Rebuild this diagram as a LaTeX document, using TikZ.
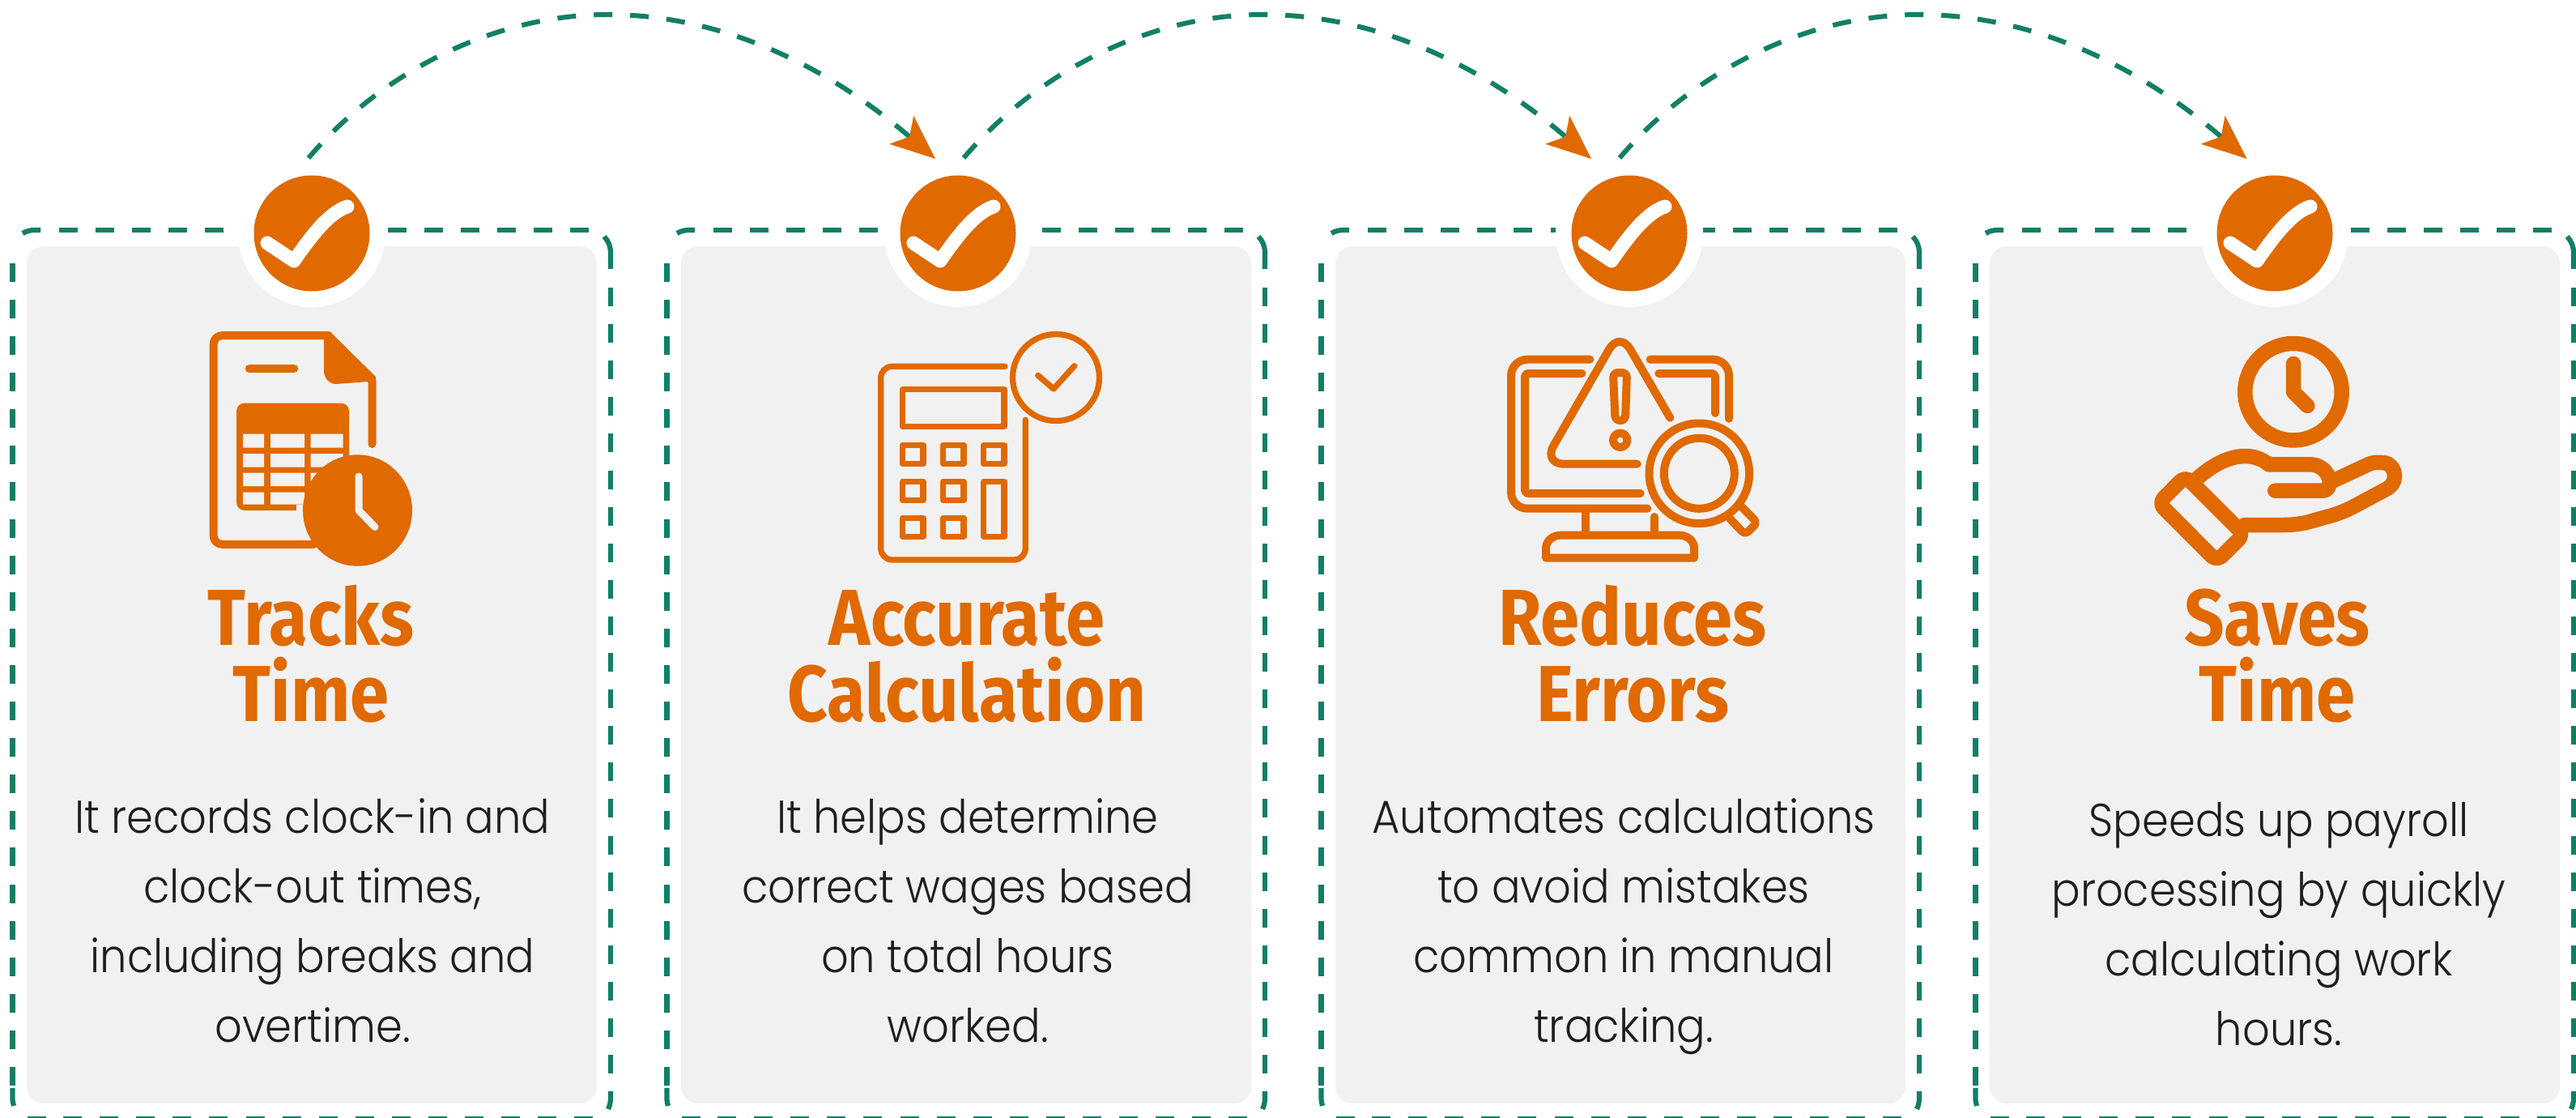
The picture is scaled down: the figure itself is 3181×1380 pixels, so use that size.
\documentclass[tikz,border=0pt]{standalone}
\usepackage{fontspec}
\usetikzlibrary{arrows.meta,calc}
\newfontfamily\titlef{Fira Sans}[FakeStretch=0.885]
\newfontfamily\bodyf{Poppins}[UprightFont={* Light},FakeStretch=0.925]
\definecolor{acc}{HTML}{E06900}
\definecolor{grn}{HTML}{117F66}
\definecolor{cardbg}{HTML}{F1F1F1}
\definecolor{ink}{HTML}{1E1E1E}
\tikzset{
  framedash/.style={draw=grn,line width=6.2pt,dash pattern=on 23pt off 22.1pt},
  framecorner/.style={draw=grn,line width=6.2pt},
  hop/.style={draw=grn,line width=6pt,dash pattern=on 23pt off 22pt,
    -{Stealth[length=55pt,width=46pt,inset=13pt,color=acc,line width=0pt]}},
  halo/.style={circle,fill=white,minimum size=182pt,inner sep=0pt},
  badge/.style={circle,fill=acc,minimum size=143pt,inner sep=0pt},
  tick/.style={draw=white,line width=17pt,line cap=round,line join=round},
  ico/.style={draw=acc,line cap=round,line join=round},
  cardtitle/.style={anchor=north,inner sep=0pt,align=center,text=acc,
    font=\titlef\bfseries\fontsize{98}{94}\selectfont},
  cardbody/.style={anchor=north,inner sep=0pt,align=center,text=ink,
    font=\bodyf\fontsize{57}{86}\selectfont},
}
\newcommand{\tickmark}[1]{\draw[tick] ($(#1)+(-55,12)$) -- ($(#1)+(-22,34)$) .. controls ($(#1)+(0,2)$) and ($(#1)+(22,-26)$) .. ($(#1)+(44,-33)$);}
\begin{document}
\begin{tikzpicture}[x=1pt,y=-1pt]
\useasboundingbox (0,0) rectangle (3181,1380);
\clip (0,0) rectangle (3181,1380);
\fill[white] (0,0) rectangle (3181,1380);
% cards
\foreach \dx in {0,808,1616,2424}{
\begin{scope}[xshift=\dx pt]
  \fill[cardbg,rounded corners=21pt] (33,304) rectangle (737,1362);
  \draw[framedash] (73,284) -- (728,284);
  \draw[framecorner] (746,292) .. controls (751,297) and (754,304) .. (754,312) -- (754,332);
  \draw[framedash] (754,355) -- (754,1330);
  \draw[framecorner] (754,1347) -- (754,1355) .. controls (754,1360) and (753,1365) .. (751,1369);
  \draw[framedash] (78,1381) -- (735,1381);
  \draw[framecorner] (34,1381) -- (57,1381);
  \draw[framedash] (15.5,1340) -- (15.5,305);
  \draw[framecorner] (15.5,1343) -- (15.5,1355) .. controls (15.5,1359) and (16,1362) .. (17,1365);
  \draw[framecorner] (28,288) .. controls (33,285) and (38,284) .. (43,284) -- (50,284);
\end{scope}
}
% badges
\node[halo] (h1) at (385,288) {};
\node[halo] (h2) at (1183,288) {};
\node[halo] (h3) at (2012,288) {};
\node[halo] (h4) at (2809,288) {};
\node[badge] (b1) at (h1) {};
\node[badge] (b2) at (h2) {};
\node[badge] (b3) at (h3) {};
\node[badge] (b4) at (h4) {};
\tickmark{b1}\tickmark{b2}\tickmark{b3}\tickmark{b4}
% hops
\coordinate (s1) at (381,195);
\coordinate (e1) at (1155,196);
\coordinate (s2) at (1190,195);
\coordinate (e2) at (1965,196);
\coordinate (s3) at (2000,195);
\coordinate (e3) at (2774.5,196);
\draw[hop] (s1) .. controls (470,90) and (610,18) .. (750,18) .. controls (880,18) and (1010,72) .. (e1);
\draw[hop] (s2) .. controls (1279,90) and (1419,18) .. (1559,18) .. controls (1689,18) and (1820,72) .. (e2);
\draw[hop] (s3) .. controls (2089,90) and (2229,18) .. (2369,18) .. controls (2499,18) and (2629.5,72) .. (e3);
% icon 1: document with table and clock
\draw[ico,line width=10pt] (387,672) -- (275,672) .. controls (268,672) and (263.5,667) .. (263.5,660) -- (263.5,426) .. controls (263.5,419) and (268,414) .. (275,414) -- (405,414) -- (459.5,470) -- (459.5,548);
\fill[acc] (400,414) -- (407,409) -- (464,465) -- (464,470) -- (455,471) -- (415,474) .. controls (406,474) and (400,466) .. (400,458) -- cycle;
\draw[ico,line width=10.5pt] (308,455) -- (363,455);
\fill[acc,rounded corners=10pt] (292,497.5) rectangle (431,630);
\fill[cardbg] (366,622.5) rectangle (432,632);
\fill[cardbg] (300,535.5) rectangle (326,552.5) (334,535.5) rectangle (376,552.5) (383.5,535.5) rectangle (423.5,552.5)
 (300,560) rectangle (326,576.5) (334,560) rectangle (376,576.5) (383.5,560) rectangle (423.5,576.5)
 (300,583.5) rectangle (326,600) (334,583.5) rectangle (376,600) (383.5,583.5) rectangle (423.5,600)
 (300,607.5) rectangle (326,622.5) (334,607.5) rectangle (376,622.5) (383.5,607.5) rectangle (431,632);
\fill[acc] (441.5,630) ellipse [x radius=67.5pt,y radius=68.7pt];
\draw[draw=cardbg,line width=9pt,line cap=round,line join=round] (443,588) -- (443,630) -- (463,650.5);
% icon 2: calculator
\begin{scope}[ico,line width=7.3pt]
  \draw[rounded corners=14pt] (1241,452.3) -- (1087.7,452.3) -- (1087.7,691) -- (1266.3,691) -- (1266.3,518.3);
  \draw (1114.7,480.7) rectangle (1240,526.7);
  \draw (1114.7,549.3) rectangle (1140,572.7) (1164.7,549.3) rectangle (1190,572.7) (1214.7,549.3) rectangle (1240,572.7);
  \draw (1114.7,594.3) rectangle (1140,617.7) (1164.7,594.3) rectangle (1190,617.7) (1214.7,594.3) rectangle (1240,662.7);
  \draw (1114.7,639.3) rectangle (1140,662.7) (1164.7,639.3) rectangle (1190,662.7);
  \draw (1304,466) circle [radius=53.5pt];
  \draw (1281.7,463.3) -- (1301,480) -- (1326.7,451.7);
\end{scope}
% icon 3: monitor, warning, magnifier
\begin{scope}[ico,line width=10pt]
  \draw[rounded corners=20pt] (1963.3,443.7) -- (1866,443.7) -- (1866,627.7) -- (2034.3,627.7);
  \draw[rounded corners=20pt] (2037.7,443.7) -- (2135,443.7) -- (2135,516.7);
  \draw[rounded corners=4pt] (1953.3,461) -- (1883,461) -- (1883,609) -- (2025.7,609);
  \draw[rounded corners=4pt] (2048.3,461) -- (2118,461) -- (2118,510);
  \draw[rounded corners=26pt] (2062.3,515.7) -- (2000,408.7) -- (1905.4,572.7) -- (2021.7,572.7);
  \draw[rounded corners=6pt] (1992,460) -- (2009,460) -- (2007,519) -- (1994.5,519) -- cycle;
  \draw (2000.7,543.3) circle [radius=8.7pt];
  \draw (2098.3,584.3) circle [radius=61.8pt];
  \draw (2098.3,584.3) circle [radius=43.5pt];
  \draw[rounded corners=6pt] (2136,640) -- (2155,660) -- (2170,645) -- (2151,626);
  \draw (1958,627.7) -- (1958,658);
  \draw (2043,638) -- (2043,658);
  \draw (1909,688.7) -- (1909,677) .. controls (1909,667) and (1918,660.7) .. (1927,660.7) -- (2074,660.7) .. controls (2083,660.7) and (2092,667) .. (2092,677) -- (2092,688.7) -- cycle;
\end{scope}
% icon 4: hand with clock
\begin{scope}[ico,line width=18.5pt]
  \draw (2832,483.7) circle [radius=59.7pt];
  \draw (2832,449) -- (2832,483.7) -- (2849.3,501);
  \draw[rounded corners=9pt] (2698.7,587.7) -- (2770.7,659.7) -- (2737.3,692.7) -- (2665.7,621) -- cycle;
  \draw (2714,590) .. controls (2740,566.7) and (2775,552) .. (2801.7,573.3) -- (2853.3,573.3) .. controls (2868,573.3) and (2880,588) .. (2876,600) .. controls (2874,604) and (2872,605.7) .. (2868,605.7) -- (2809.3,605.7);
  \draw (2880,594) -- (2925,573) .. controls (2932,570) and (2937,571) .. (2942,571) .. controls (2952,571) and (2957,580) .. (2957,588) .. controls (2957,595) and (2953,600) .. (2948,603) -- (2905,626) .. controls (2895,631) and (2885,635) .. (2873,638) -- (2848,645) .. controls (2838,647) and (2830,648) .. (2820,648) -- (2772,648);
\end{scope}
% titles
\node[cardtitle] (t1) at (384,716.4) {\rule{0pt}{80pt}Tracks\\Time};
\node[cardtitle] (t2) at (1194,716.4) {\rule{0pt}{80pt}Accurate\\Calculation};
\node[cardtitle] (t3) at (2016,716.4) {\rule{0pt}{80pt}Reduces\\Errors};
\node[cardtitle] (t4) at (2812,716.4) {\rule{0pt}{80pt}Saves\\Time};
% body
\node[cardbody] (d1) at (386,968.4) {\rule{0pt}{60pt}It records clock-in and\\clock-out times,\\including breaks and\\overtime.};
\node[cardbody] (d2) at (1195,968.4) {\rule{0pt}{60pt}It helps determine\\correct wages based\\on total hours\\worked.};
\node[cardbody] (d3) at (2005,968.4) {\rule{0pt}{60pt}Automates calculations\\to avoid mistakes\\common in manual\\tracking.};
\node[cardbody] (d4) at (2814,972.4) {\rule{0pt}{60pt}Speeds up payroll\\processing by quickly\\calculating work\\hours.};
\end{tikzpicture}
\end{document}
